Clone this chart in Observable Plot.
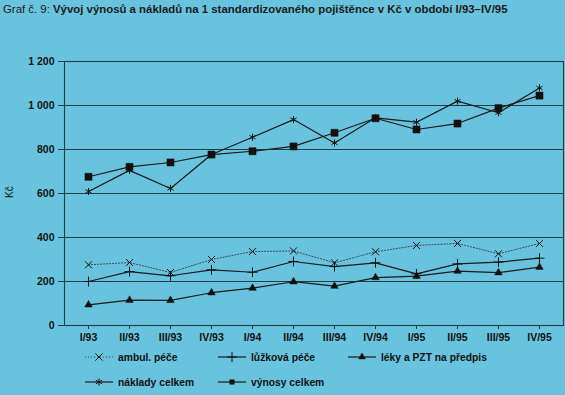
<!DOCTYPE html>
<html>
<head>
<meta charset="utf-8">
<script src="https://cdn.jsdelivr.net/npm/d3@7"></script>
<script src="https://cdn.jsdelivr.net/npm/@observablehq/plot@0.6"></script>
<style>
  html, body { margin: 0; padding: 0; }
  body { width: 565px; height: 395px; background: #68c4de; position: relative; overflow: hidden;
         font-family: "Liberation Sans", Arial, Helvetica, sans-serif; color: #111; }
  #title { position: absolute; left: 3px; top: 3px; font-size: 11.4px; white-space: nowrap; color: #1a1a1a; }
  #title b { font-weight: bold; }
  #chart { position: absolute; left: 0; top: 0; }
  #ylab { position: absolute; left: 2px; top: 184px; font-size: 10px; transform: rotate(-90deg); transform-origin: 8px 6px; }
  .leg { position: absolute; font-size: 10.3px; font-weight: bold; white-space: nowrap; display: flex; align-items: center; }
  .leg svg { margin-right: 5px; }
</style>
</head>
<body>
<div id="title">Graf č. 9: <b>Vývoj výnosů a nákladů na 1 standardizovaného pojištěnce v Kč v období I/93–IV/95</b></div>
<div id="chart"></div>
<div id="ylab">Kč</div>
<div id="legend"></div>
<script>
const quarters = ["I/93","II/93","III/93","IV/93","I/94","II/94","III/94","IV/94","I/95","II/95","III/95","IV/95"];
const ambulPece   = [276, 286, 241, 300, 336, 339, 285, 335, 364, 373, 326, 373];
const luzkovaPece = [200, 245, 226, 253, 242, 291, 268, 285, 235, 280, 288, 306];
const leky        = [ 94, 115, 114, 149, 170, 199, 179, 218, 224, 247, 240, 265];
const nakladyCelkem = [609, 705, 623, 777, 856, 936, 830, 944, 924, 1020, 967, 1080];
const vynosyCelkem  = [676, 721, 741, 777, 792, 814, 876, 942, 891, 918, 988, 1045];
const yTicks = [0, 200, 400, 600, 800, 1000, 1200];

const series = [
  {name: "ambul. péče", values: ambulPece, symbol: "times", filled: false, dash: "1.2,1.8", color: "#3a4a50", width: 1},
  {name: "lůžková péče", values: luzkovaPece, symbol: "plus", filled: false, dash: null, color: "#1a1a1a", width: 1.2},
  {name: "léky a PZT na předpis", values: leky, symbol: "triangle", filled: true, dash: null, color: "#1a1a1a", width: 1.2},
  {name: "náklady celkem", values: nakladyCelkem, symbol: "asterisk", filled: false, dash: null, color: "#1a1a1a", width: 1.2},
  {name: "výnosy celkem", values: vynosyCelkem, symbol: "square", filled: true, dash: null, color: "#1a1a1a", width: 1.2}
];

const fmt = d => d >= 1000 ? d3.format(",")(d).replace(",", " ") : String(d);
const gridColor = "#1f3d47";

const marks = [
  Plot.gridY(yTicks, {stroke: gridColor, strokeOpacity: 1, strokeWidth: 1.1}),
  Plot.frame({stroke: gridColor, strokeWidth: 1.1}),
  Plot.axisY(yTicks, {tickFormat: fmt, tickSize: 6, tickPadding: 4, fontWeight: "bold", fontSize: 10.5, stroke: gridColor, fill: "#111", label: null}),
  Plot.axisX({tickSize: 4, tickPadding: 4, fontWeight: "bold", fontSize: 10.5, stroke: gridColor, fill: "#111", label: null}),
];
for (const s of series) {
  const data = quarters.map((q, i) => ({q, v: s.values[i]}));
  marks.push(Plot.line(data, {x: "q", y: "v", stroke: s.color, strokeWidth: s.width, strokeDasharray: s.dash}));
  const r = s.symbol === "square" ? 4 : s.symbol === "triangle" ? 2.8 : 3.3;
  marks.push(Plot.dot(data, {x: "q", y: "v", symbol: s.symbol, r,
    fill: s.filled ? "#111" : "none", stroke: "#111", strokeWidth: s.filled ? 0.5 : 1}));
}

const chart = Plot.plot({
  width: 565,
  height: 350,
  marginTop: 61,
  marginBottom: 25,
  marginLeft: 64,
  marginRight: 2,
  style: {background: "transparent", fontFamily: "'Liberation Sans', Arial, sans-serif", color: "#111"},
  x: {type: "point", domain: quarters, padding: 0.5, label: null},
  y: {domain: [0, 1200], label: null},
  marks
});
document.getElementById("chart").appendChild(chart);

// legend
const legendPos = [
  {left: 85, top: 351}, {left: 218, top: 351}, {left: 348, top: 351},
  {left: 85, top: 376}, {left: 218, top: 376}
];
const symMap = {times: d3.symbolTimes, plus: d3.symbolPlus, triangle: d3.symbolTriangle, asterisk: d3.symbolAsterisk, square: d3.symbolSquare};
const legend = document.getElementById("legend");
series.forEach((s, i) => {
  const div = document.createElement("div");
  div.className = "leg";
  div.style.left = legendPos[i].left + "px";
  div.style.top = legendPos[i].top + "px";
  const w = 28, h = 12;
  const svg = d3.create("svg").attr("width", w).attr("height", h);
  svg.append("line").attr("x1", 0).attr("x2", w).attr("y1", h/2).attr("y2", h/2)
    .attr("stroke", s.color).attr("stroke-width", s.width).attr("stroke-dasharray", s.dash);
  const size = s.symbol === "square" ? 20 : s.symbol === "triangle" ? 20 : 36;
  svg.append("path").attr("transform", `translate(${w/2},${h/2})`)
    .attr("d", d3.symbol(symMap[s.symbol], size)())
    .attr("fill", s.filled ? "#111" : "none").attr("stroke", "#111").attr("stroke-width", s.filled ? 0.5 : 1);
  div.appendChild(svg.node());
  const span = document.createElement("span");
  span.textContent = s.name;
  div.appendChild(span);
  legend.appendChild(div);
});
</script>
</body>
</html>
